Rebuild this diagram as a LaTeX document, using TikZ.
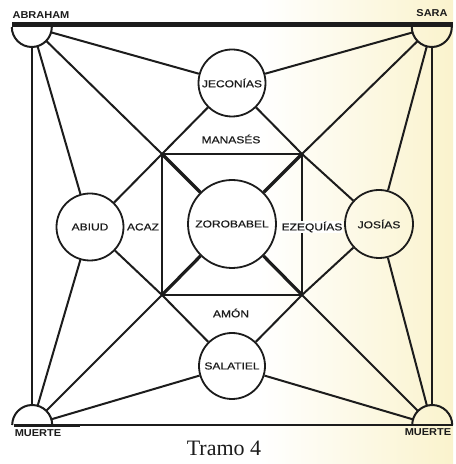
\documentclass[tikz,border=0pt]{standalone}
\usepackage{fontspec}
\setmainfont{Liberation Serif}
\newfontfamily\nombrefont[FakeStretch=1.2, FakeBold=0.6]{Liberation Sans}
\newfontfamily\extremofont[FakeStretch=1.1]{Liberation Sans}
\usepackage{tikz}

\definecolor{tinta}{RGB}{28,28,28}
\definecolor{papel}{RGB}{250,243,205}

\begin{document}
\begin{tikzpicture}[x=1pt, y=1pt,
    persona/.style={circle, draw=tinta, line width=1.8pt, inner sep=0pt,
      text=tinta, font=\nombrefont\fontsize{10}{12}\selectfont},
    extremo/.style={circle, inner sep=0pt, minimum size=40pt},
    rotulo/.style={text=tinta, inner sep=1pt,
      font=\extremofont\bfseries\fontsize{10}{12}\selectfont},
    nombre/.style={text=tinta, inner sep=1pt,
      font=\nombrefont\fontsize{10}{12}\selectfont},
    linea/.style={draw=tinta, line width=2pt},
    diagonal/.style={draw=tinta, line width=3.2pt},
    lado/.style={draw=tinta, line width=1.4pt}]

  %% Fondo
  \fill[white] (0,0) rectangle (453,464);
  \shade[left color=white, right color=papel] (260,0) rectangle (453,464);

  % Extremos (esquinas)
  \node[extremo] (abraham) at (32,437) {};
  \node[extremo] (sara) at (432,437) {};
  \node[extremo] (muerteA) at (32,39) {};
  \node[extremo] (muerteB) at (432,39) {};

  % Barras de arriba y abajo
  \draw[tinta, line width=5.5pt] (12,439.5) -- (453,439.5);
  \draw[tinta, line width=1.5pt] (14,39) -- (453,39);
  \draw[tinta, line width=3pt] (14,38.5) -- (80,38.5);

  \draw[linea] (abraham.west) arc[start angle=180, end angle=360, radius=20];
  \draw[linea] (sara.west) arc[start angle=180, end angle=360, radius=20];
  \draw[linea] (muerteA.east) arc[start angle=0, end angle=180, radius=20];
  \draw[linea] (muerteB.east) arc[start angle=0, end angle=180, radius=20];

  % Personas
  \node[persona, minimum size=67pt] (jeconias) at (232,381) {JECONÍAS};
  \node[persona, minimum size=67pt] (abiud) at (90,237) {ABIUD};
  \node[persona, minimum size=88pt] (zorobabel) at (232,240) {ZOROBABEL};
  \node[persona, minimum size=68pt] (josias) at (379,240) {JOSÍAS};
  \node[persona, minimum size=66pt] (salatiel) at (232,98) {SALATIEL};

  % Cuadrado interior
  \coordinate (esqA) at (162,310);
  \coordinate (esqB) at (302,310);
  \coordinate (esqC) at (302,169);
  \coordinate (esqD) at (162,169);
  \draw[lado] (esqA) -- (esqB) -- (esqC) -- (esqD) -- cycle;

  % Rombo
  \draw[linea] (jeconias) -- (esqA) -- (abiud);
  \draw[linea] (jeconias) -- (esqB) -- (josias);
  \draw[linea] (salatiel) -- (esqD) -- (abiud);
  \draw[linea] (salatiel) -- (esqC) -- (josias);

  % Diagonales hacia el centro
  \draw[linea] (abraham) -- (esqA);
  \draw[linea] (sara) -- (esqB);
  \draw[linea] (muerteB) -- (esqC);
  \draw[linea] (muerteA) -- (esqD);
  \draw[diagonal] (esqA) -- (zorobabel);
  \draw[diagonal] (esqB) -- (zorobabel);
  \draw[diagonal] (esqC) -- (zorobabel);
  \draw[diagonal] (esqD) -- (zorobabel);

  % Rayos desde las esquinas
  \draw[linea] (abraham) -- (jeconias);
  \draw[linea] (abraham) -- (abiud);
  \draw[linea] (abraham) -- (muerteA);
  \draw[linea] (sara) -- (jeconias);
  \draw[linea] (sara) -- (josias);
  \draw[linea] (sara) -- (muerteB);
  \draw[linea] (muerteA) -- (abiud);
  \draw[linea] (muerteA) -- (salatiel);
  \draw[linea] (muerteB) -- (josias);
  \draw[linea] (muerteB) -- (salatiel);

  % Nombres entre los lados
  \node[nombre] (manases) at (231,325) {MANASÉS};
  \node[nombre] (amon) at (231,151) {AMÓN};
  \node[nombre] (acaz) at (143,237) {ACAZ};
  \node[nombre, fill=white] (ezequias) at (312,237) {EZEQUÍAS};

  % Rotulos de las esquinas
  \node[rotulo] (txtAbraham) at (41,449) {ABRAHAM};
  \node[rotulo] (txtSara) at (432,451) {SARA};
  \node[rotulo] (txtMuerteA) at (38,31) {MUERTE};
  \node[rotulo] (txtMuerteB) at (428,32) {MUERTE};

  \node[text=tinta, font=\fontsize{22}{26}\selectfont] (tramo) at (224,16) {Tramo 4};

\end{tikzpicture}
\end{document}
